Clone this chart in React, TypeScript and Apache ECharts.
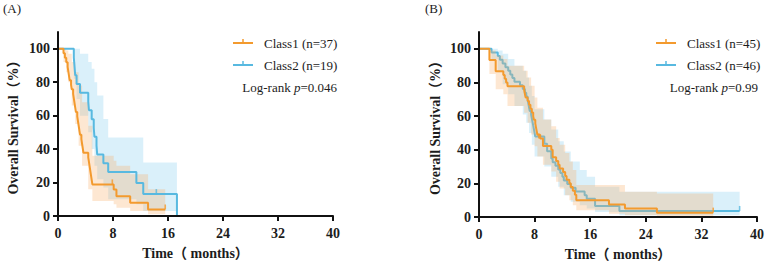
import React, { useEffect, useRef } from "react";
import * as echarts from "echarts";

// ---------- Panel A: Kaplan–Meier estimates (time in months, survival in %) ----------
const aClass1Time = [0, 0.8, 1.0, 1.2, 1.4, 1.5, 1.6, 1.7, 1.9, 2.0, 2.2, 2.3, 2.4, 2.5, 2.6, 2.8, 2.9, 3.0, 3.1, 3.2, 3.4, 3.5, 3.6, 3.7, 4.4, 4.5, 4.6, 4.7, 4.8, 4.9, 5.0, 8.1, 8.5, 10.5, 13.1, 15.6];
const aClass1Surv = [100, 97.3, 94.6, 91.9, 89.2, 86.5, 83.8, 81.1, 78.4, 75.7, 73.0, 70.3, 67.6, 64.9, 62.2, 59.5, 56.8, 54.1, 51.4, 48.6, 45.9, 43.2, 40.5, 37.8, 35.1, 32.4, 29.7, 27.0, 24.3, 21.6, 18.9, 15.8, 11.8, 7.9, 3.9, 3.9];
const aClass1CensorTime = [7.9, 15.6];
const aClass1CensorSurv = [18.9, 3.9];

const aClass2Time = [0, 2.3, 2.4, 2.5, 2.7, 3.2, 4.4, 4.5, 4.9, 5.2, 5.3, 5.6, 5.7, 6.6, 7.3, 11.4, 12.4, 17.3];
const aClass2Surv = [100, 94.7, 89.5, 84.2, 78.9, 73.7, 68.4, 63.2, 57.9, 52.6, 47.4, 42.1, 36.8, 31.6, 26.3, 19.7, 13.1, 0];
const aClass2CensorTime = [14.3];
const aClass2CensorSurv = [13.1];

// 95% confidence bands (step edges; last time closes the band)
const aClass1BandTime = [0, 0.8, 1.2, 1.5, 2.0, 2.5, 3.0, 3.5, 4.4, 5.0, 8.1, 8.5, 10.5, 13.1, 15.6];
const aClass1BandLo = [100, 92, 86, 80, 66, 55, 42, 30, 16, 9, 7, 5, 3, 1, 1];
const aClass1BandHi = [100, 100, 99, 97, 92, 86, 78, 68, 54, 36, 33, 30, 25, 16, 16];

const aClass2BandTime = [0, 2.3, 2.7, 3.2, 4.4, 4.9, 5.3, 5.7, 6.6, 7.3, 11.4, 12.4, 17.3];
const aClass2BandLo = [100, 82, 70, 60, 50, 40, 30, 22, 17, 10, 7, 3, 3];
const aClass2BandHi = [100, 100, 100, 97, 92, 88, 80, 72, 58, 47, 47, 32, 32];

// ---------- Panel B ----------
const bClass1Time = [0, 1.5, 2.4, 3.5, 3.7, 3.9, 4.1, 6.5, 6.6, 6.7, 7.0, 7.2, 7.4, 7.6, 7.8, 7.9, 8.1, 8.2, 8.3, 8.4, 8.8, 9.2, 10.4, 10.6, 11.1, 11.4, 11.6, 12.1, 12.4, 12.6, 13.0, 13.2, 13.5, 13.8, 14.0, 18.7, 21.0, 25.6, 33.7];
const bClass1Surv = [100, 93.3, 86.7, 84.4, 82.2, 80.0, 77.8, 75.6, 73.3, 71.1, 68.9, 66.7, 64.4, 62.2, 60.0, 57.8, 55.6, 53.3, 51.1, 48.9, 46.7, 42.2, 40.0, 35.6, 33.3, 31.1, 28.9, 26.7, 24.4, 22.2, 20.0, 17.8, 15.6, 13.3, 10.0, 7.5, 5.0, 2.6, 2.6];
const bClass1CensorTime = [8.6, 33.7];
const bClass1CensorSurv = [46.7, 2.6];

const bClass2Time = [0, 1.8, 2.7, 3.0, 3.4, 3.8, 4.2, 4.5, 4.8, 5.1, 5.9, 6.3, 6.6, 6.8, 7.0, 7.1, 7.2, 7.3, 7.5, 7.6, 7.7, 7.8, 7.9, 8.0, 8.1, 9.4, 9.8, 10.4, 10.6, 11.0, 11.4, 11.7, 12.0, 12.2, 12.7, 13.2, 13.9, 15.2, 15.5, 16.7, 20.2, 37.5];
const bClass2Surv = [100, 97.8, 95.7, 93.5, 91.3, 89.1, 87.0, 84.8, 82.6, 80.4, 78.3, 76.1, 73.9, 71.7, 69.6, 67.4, 65.2, 63.0, 60.9, 58.7, 56.5, 54.3, 52.2, 50.0, 47.8, 43.5, 39.1, 34.8, 32.6, 30.4, 28.3, 26.1, 23.9, 21.7, 19.6, 17.4, 15.2, 13.0, 10.9, 6.5, 3.6, 3.6];
const bClass2CensorTime = [37.5];
const bClass2CensorSurv = [3.6];

const bClass1BandTime = [0, 1.5, 2.4, 3.5, 4.1, 6.5, 7.0, 7.5, 8.0, 8.4, 9.2, 10.4, 11.1, 11.6, 12.4, 13.0, 13.5, 14.0, 18.7, 21.0, 25.6, 33.7];
const bClass1BandLo = [100, 85, 76, 73, 66, 62, 56, 49, 42, 36, 31, 27, 21, 17, 13, 10, 7, 4, 2, 1, 0.5, 0.5];
const bClass1BandHi = [100, 99, 96, 94, 90, 87, 83, 78, 71, 65, 58, 54, 47, 43, 38, 33, 28, 19, 19, 15, 14, 14];

const bClass2BandTime = [0, 1.8, 2.7, 3.4, 4.2, 5.1, 6.3, 6.8, 7.2, 7.6, 8.0, 9.4, 10.4, 11.4, 12.2, 13.2, 14.5, 15.5, 16.7, 20.2, 37.5];
const bClass2BandLo = [100, 94, 86, 79, 73, 66, 61, 56, 50, 43, 36, 30, 24, 18, 13, 9, 7, 5, 3, 1, 1];
const bClass2BandHi = [100, 100, 99, 97, 94, 90, 87, 83, 78, 72, 64, 58, 52, 45, 39, 33, 28, 24, 18, 15, 15];

// ---------- Axis ticks and labels ----------
const yTickValues = [0, 20, 40, 60, 80, 100];
const xTickInterval = 8;
const xMax = 40;
const yMax = 110;

const legendA = ["Class1 (n=37)", "Class2 (n=19)"];
const legendB = ["Class1 (n=45)", "Class2 (n=46)"];
const pValueA = "0.046";
const pValueB = "0.99";

// ---------- Styling ----------
const SERIF = '"Times New Roman", "Liberation Serif", "DejaVu Serif", "Noto Sans CJK SC", serif';
const TEXT = "#1c1c1c";
const ORANGE = "#F39A2E";
const BLUE = "#58B9E0";
const ORANGE_FILL = "rgba(250,176,105,0.30)";
const BLUE_FILL = "rgba(120,200,235,0.27)";

const zip = (t: number[], s: number[]) => t.map((x, i) => [x, s[i]]);

function stepLine(gi: number, t: number[], s: number[], color: string, z: number) {
  return {
    type: "line",
    xAxisIndex: gi,
    yAxisIndex: gi,
    data: zip(t, s),
    step: "end",
    symbol: "none",
    showSymbol: false,
    lineStyle: { color, width: 2 },
    itemStyle: { color },
    silent: true,
    z,
  };
}

function censorMarks(gi: number, t: number[], s: number[], color: string, z: number) {
  return {
    type: "scatter",
    xAxisIndex: gi,
    yAxisIndex: gi,
    data: zip(t, s),
    symbol: "rect",
    symbolSize: [1.6, 5],
    symbolOffset: [0, -2.5],
    itemStyle: { color },
    silent: true,
    z,
  };
}

// Confidence band as a single step-shaped polygon placed through the axis scales
function band(gi: number, t: number[], lo: number[], hi: number[], fill: string, z: number) {
  return {
    type: "custom",
    xAxisIndex: gi,
    yAxisIndex: gi,
    data: [[t[0], lo[0]]],
    silent: true,
    z,
    renderItem: (_params: any, api: any) => {
      const upper: number[][] = [];
      const lower: number[][] = [];
      for (let i = 0; i < t.length - 1; i++) {
        upper.push(api.coord([t[i], hi[i]]), api.coord([t[i + 1], hi[i]]));
        lower.push(api.coord([t[i], lo[i]]), api.coord([t[i + 1], lo[i]]));
      }
      return {
        type: "polygon",
        shape: { points: upper.concat(lower.reverse()) },
        style: { fill, stroke: "none" },
        silent: true,
      };
    },
  };
}

const axisTextStyle = { fontFamily: SERIF, fontWeight: "bold" as const, fontSize: 14, color: TEXT };

function xAxis(gi: number) {
  return {
    type: "value",
    gridIndex: gi,
    min: 0,
    max: xMax,
    interval: xTickInterval,
    name: "Time（ months）",
    nameLocation: "middle",
    nameGap: 30,
    nameTextStyle: axisTextStyle,
    axisLine: { show: true, lineStyle: { color: "#111", width: 2 } },
    axisTick: { show: true, length: 5, lineStyle: { color: "#111", width: 2 } },
    axisLabel: { ...axisTextStyle, margin: 10 },
    splitLine: { show: false },
    z: 10,
  };
}

function yAxis(gi: number, gap: number) {
  return {
    type: "value",
    gridIndex: gi,
    min: 0,
    max: yMax,
    name: "Overall Survival（%）",
    nameLocation: "middle",
    nameGap: gap,
    nameTextStyle: axisTextStyle,
    axisLine: { show: true, lineStyle: { color: "#111", width: 2 } },
    axisTick: { show: true, length: 5, lineStyle: { color: "#111", width: 2 }, customValues: yTickValues },
    axisLabel: { ...axisTextStyle, margin: 8, customValues: yTickValues },
    splitLine: { show: false },
    z: 10,
  };
}

function legendBlock(sampleX: number, textX: number, rightX: number, labels: string[], p: string) {
  const rows = [43, 65];
  const colors = [ORANGE, BLUE];
  const els: any[] = [];
  rows.forEach((y, i) => {
    els.push({
      type: "line",
      shape: { x1: sampleX, y1: y, x2: sampleX + 20, y2: y },
      style: { stroke: colors[i], lineWidth: 2 },
    });
    els.push({
      type: "line",
      shape: { x1: sampleX + 10, y1: y, x2: sampleX + 10, y2: y - 4 },
      style: { stroke: colors[i], lineWidth: 1.5 },
    });
    els.push({
      type: "text",
      x: textX,
      y,
      style: { text: labels[i], fontFamily: SERIF, fontSize: 13, fill: TEXT, align: "left", verticalAlign: "middle" },
    });
  });
  els.push({
    type: "text",
    x: rightX,
    y: 87,
    style: {
      text: `Log-rank {i|p}=${p}`,
      fontFamily: SERIF,
      fontSize: 13,
      fill: TEXT,
      align: "right",
      verticalAlign: "middle",
      rich: { i: { fontStyle: "italic", fontFamily: SERIF, fontSize: 13, fill: TEXT } },
    },
  });
  return els;
}

const option = {
  animation: false,
  backgroundColor: "#ffffff",
  grid: [
    { left: 58, top: 32, width: 275, height: 184 },
    { left: 479, top: 32, width: 278, height: 185.5 },
  ],
  xAxis: [xAxis(0), xAxis(1)],
  yAxis: [yAxis(0, 38), yAxis(1, 37)],
  series: [
    // Panel A
    band(0, aClass2BandTime, aClass2BandLo, aClass2BandHi, BLUE_FILL, 2),
    band(0, aClass1BandTime, aClass1BandLo, aClass1BandHi, ORANGE_FILL, 3),
    stepLine(0, aClass2Time, aClass2Surv, BLUE, 5),
    censorMarks(0, aClass2CensorTime, aClass2CensorSurv, BLUE, 5),
    stepLine(0, aClass1Time, aClass1Surv, ORANGE, 6),
    censorMarks(0, aClass1CensorTime, aClass1CensorSurv, ORANGE, 6),
    // Panel B
    band(1, bClass2BandTime, bClass2BandLo, bClass2BandHi, BLUE_FILL, 2),
    stepLine(1, bClass2Time, bClass2Surv, BLUE, 3),
    censorMarks(1, bClass2CensorTime, bClass2CensorSurv, BLUE, 3),
    band(1, bClass1BandTime, bClass1BandLo, bClass1BandHi, ORANGE_FILL, 4),
    stepLine(1, bClass1Time, bClass1Surv, ORANGE, 6),
    censorMarks(1, bClass1CensorTime, bClass1CensorSurv, ORANGE, 6),
  ],
  graphic: [
    { type: "text", x: 3, y: 8, style: { text: "(A)", fontFamily: SERIF, fontSize: 13, fill: TEXT, verticalAlign: "middle" } },
    { type: "text", x: 425, y: 8, style: { text: "(B)", fontFamily: SERIF, fontSize: 13, fill: TEXT, verticalAlign: "middle" } },
    ...legendBlock(233, 264, 337, legendA, pValueA),
    ...legendBlock(656, 687, 758, legendB, pValueB),
  ],
};

export default function App() {
  const ref = useRef<HTMLDivElement>(null);
  useEffect(() => {
    document.body.style.margin = "0";
    const chart = echarts.init(ref.current as HTMLDivElement, undefined, { renderer: "svg" });
    chart.setOption(option as any);
    return () => chart.dispose();
  }, []);
  return <div ref={ref} style={{ width: 767, height: 266 }} />;
}
